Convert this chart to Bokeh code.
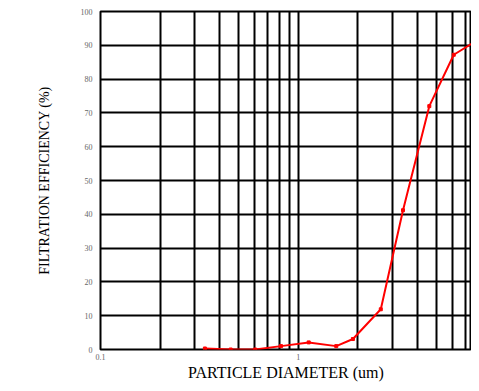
from bokeh.plotting import figure
from bokeh.models import Range1d, FixedTicker
from bokeh.embed import file_html
from bokeh.resources import INLINE

# Data
diameter_um = [0.337, 0.455, 0.605, 0.817, 1.128, 1.554, 1.887, 2.61, 3.38, 4.59, 6.10, 10.0]
efficiency_pct = [0.3, 0.0, 0.0, 1.0, 2.1, 1.0, 3.1, 11.9, 41.2, 72.0, 87.2, 95.0]

y_ticks = [0, 10, 20, 30, 40, 50, 60, 70, 80, 90, 100]
x_label_ticks = [0.1, 1, 10]
x_grid_ticks = [0.1, 0.2, 0.3, 0.4, 0.5, 0.6, 0.7, 0.8, 0.9,
                1, 2, 3, 4, 5, 6, 7, 8, 9, 10]

x_title = "PARTICLE DIAMETER (um)"
y_title = "FILTRATION EFFICIENCY (%)"

p = figure(width=471, height=383, x_axis_type="log",
           x_range=Range1d(0.1, 7.5), y_range=Range1d(0, 100),
           output_backend="svg", toolbar_location=None,
           min_border_left=100, min_border_right=0,
           min_border_top=11, min_border_bottom=10)

p.background_fill_color = "white"
p.border_fill_color = "white"
p.outline_line_color = "black"
p.outline_line_width = 2

# grid
p.xgrid.ticker = FixedTicker(ticks=x_grid_ticks)
p.ygrid.ticker = FixedTicker(ticks=y_ticks)
for g in (p.xgrid, p.ygrid):
    g.grid_line_color = "black"
    g.grid_line_width = 2
    g.grid_line_alpha = 1.0

# axes
p.xaxis.ticker = FixedTicker(ticks=x_label_ticks)
p.xaxis.major_label_overrides = {0.1: "0.1", 1: "1", 10: "10"}
p.yaxis.ticker = FixedTicker(ticks=y_ticks)
for ax in (p.xaxis, p.yaxis):
    ax.axis_line_color = None
    ax.major_tick_line_color = None
    ax.minor_tick_line_color = None
    ax.major_tick_out = 0
    ax.major_tick_in = 0
    ax.minor_tick_out = 0
    ax.minor_tick_in = 0
    ax.major_label_text_font = "Liberation Serif"
    ax.major_label_text_font_size = "8px"
    ax.major_label_text_color = "#666666"
    ax.axis_label_text_font = "Liberation Serif"
    ax.axis_label_text_font_style = "normal"
    ax.axis_label_text_color = "black"

p.xaxis.axis_label = x_title
p.xaxis.axis_label_text_font_size = "16px"
p.xaxis.major_label_standoff = 4
p.xaxis.axis_label_standoff = 1

p.yaxis.axis_label = y_title
p.yaxis.axis_label_text_font_size = "14px"
p.yaxis.major_label_standoff = 8
p.yaxis.axis_label_standoff = 26

# data line
p.line(diameter_um, efficiency_pct, line_color="red", line_width=2)
p.scatter(diameter_um, efficiency_pct, marker="square", size=3,
          fill_color="red", line_color="red")

open("out.html", "w").write(file_html(p, INLINE))
